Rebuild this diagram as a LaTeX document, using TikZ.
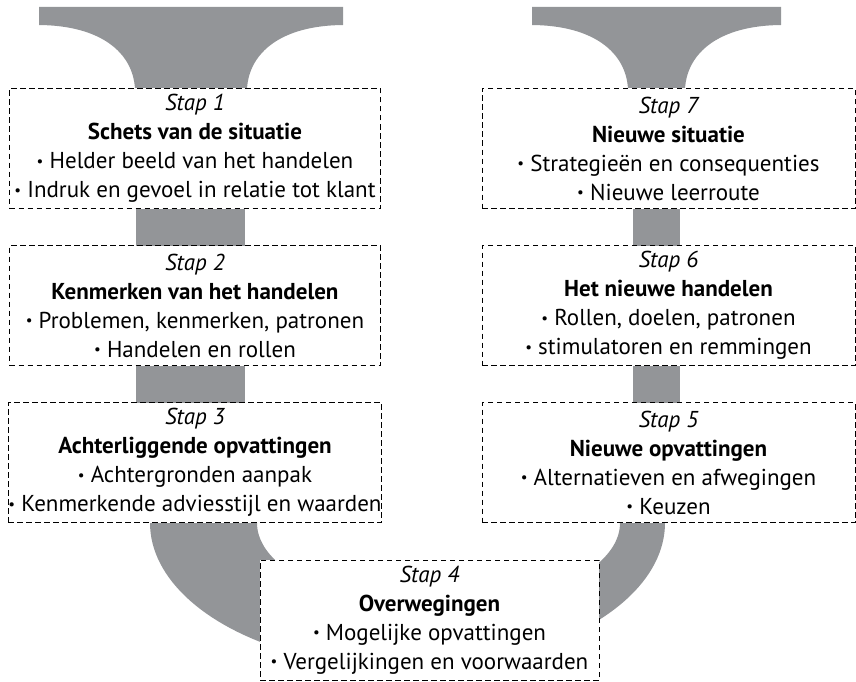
\documentclass[tikz,border=0pt]{standalone}
\usepackage{fontspec}
\setmainfont{PT Sans}
\definecolor{pipegray}{RGB}{147,149,152}
\newcommand{\stepbul}{\raisebox{0.2ex}{\fontsize{15}{0}\selectfont •}}
\begin{document}
\begin{tikzpicture}[x=1pt,y=-1pt,
  pipe/.style={fill=pipegray},
  stepbox/.style={draw, dash pattern=on 5.5pt off 3.5pt, line width=0.9pt, fill=white,
    align=center, inner sep=0pt, minimum height=120pt,
    font=\fontsize{23}{29}\selectfont}]
\useasboundingbox (0,0) rectangle (856,682);
% funnels
\fill[pipe] (39,7) -- (343,7) -- (343,25) .. controls (282,25.5) and (249,52) .. (247,89)
  -- (247,95) -- (135,95) -- (135,89) .. controls (133,52) and (100,25.5) .. (39,25) -- cycle;
\fill[pipe] (532,7) -- (781,7) -- (781,25) .. controls (720,25.5) and (687,52) .. (685,89)
  -- (685,95) -- (628,95) -- (628,89) .. controls (626,52) and (593,25.5) .. (532,25) -- cycle;
% bars
\fill[pipe] (136,200) rectangle (245,250);
\fill[pipe] (136,360) rectangle (245,410);
\fill[pipe] (633,200) rectangle (680,250);
\fill[pipe] (633,360) rectangle (680,410);
% U bend
\fill[pipe] (150,515) -- plot[domain=0:180,samples=90] ({407.5-257.5*cos(\x)},{523+145*sin(\x)})
  -- (665,515) -- (620,515) -- plot[domain=0:180,samples=90] ({438.5+181.5*cos(\x)},{523+85*sin(\x)})
  -- (257,515) -- cycle;
% boxes
\node[stepbox, minimum width=371pt] (box1) at (195,148.5)
  {{\itshape Stap 1}\\ {\bfseries Schets van de situatie}\\ \stepbul\ Helder beeld van het handelen\\ \stepbul\ Indruk en gevoel in relatie tot klant};
\node[stepbox, minimum width=371pt] (box2) at (195,305.5)
  {{\itshape Stap 2}\\ {\bfseries Kenmerken van het handelen}\\ \stepbul\ Problemen, kenmerken, patronen\\ \stepbul\ Handelen en rollen};
\node[stepbox, minimum width=371pt] (box3) at (195,462.5)
  {{\itshape Stap 3}\\ {\bfseries Achterliggende opvattingen}\\ \stepbul\ Achtergronden aanpak\\ \stepbul\ Kenmerkende adviesstijl en waarden};
\node[stepbox, minimum width=339pt] (box4) at (429.5,620)
  {{\itshape Stap 4}\\ {\bfseries Overwegingen}\\ \stepbul\ Mogelijke opvattingen\\ \stepbul\ Vergelijkingen en voorwaarden};
\node[stepbox, minimum width=373pt] (box5) at (668.5,462.5)
  {{\itshape Stap 5}\\ {\bfseries Nieuwe opvattingen}\\ \stepbul\ Alternatieven en afwegingen\\ \stepbul\ Keuzen};
\node[stepbox, minimum width=373pt] (box6) at (668.5,305.5)
  {{\itshape Stap 6}\\ {\bfseries Het nieuwe handelen}\\ \stepbul\ Rollen, doelen, patronen\\ \stepbul\ stimulatoren en remmingen};
\node[stepbox, minimum width=373pt] (box7) at (668.5,148.5)
  {{\itshape Stap 7}\\ {\bfseries Nieuwe situatie}\\ \stepbul\ Strategieën en consequenties\\ \stepbul\ Nieuwe leerroute};
\end{tikzpicture}
\end{document}
